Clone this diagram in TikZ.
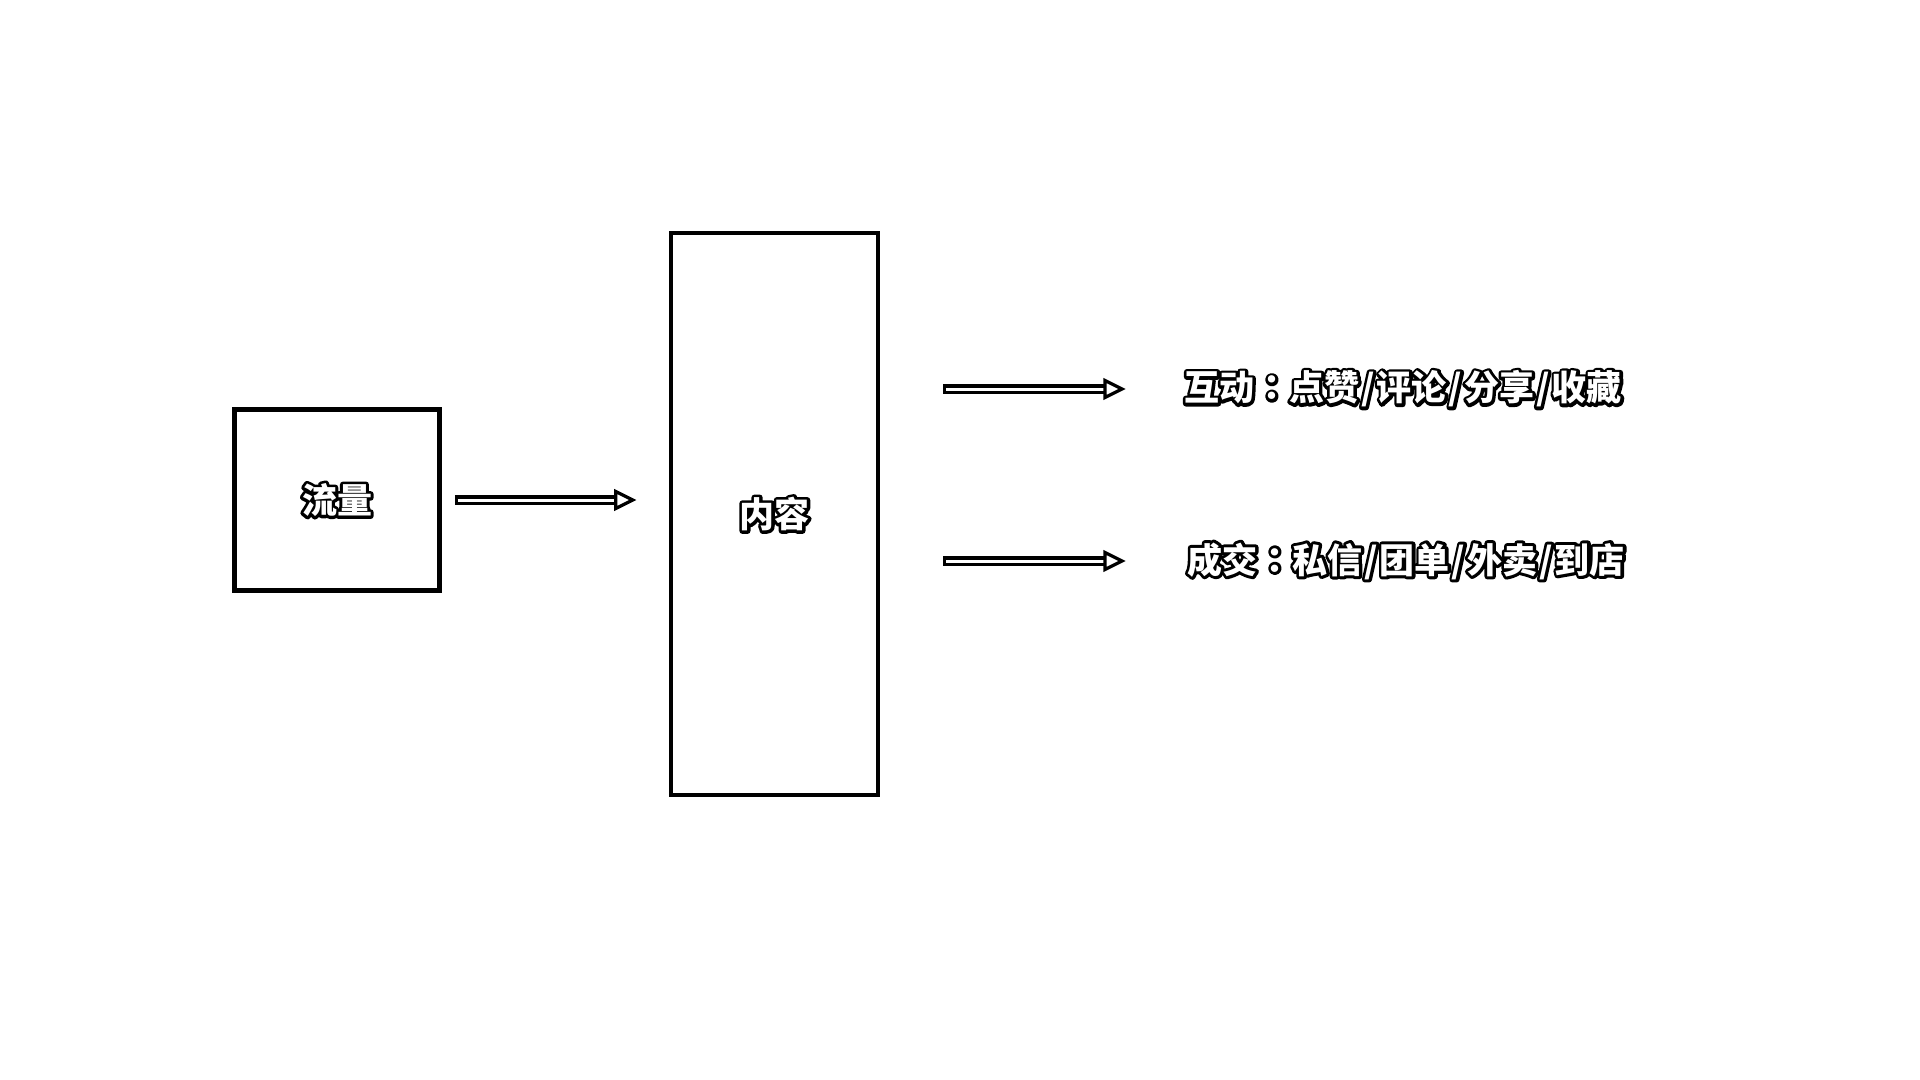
\documentclass[tikz,border=0pt]{standalone}
\usepackage{fontspec}
\newfontfamily\cjk{Noto Sans CJK SC}
\newfontfamily\cjkjp{Noto Sans CJK JP}
\usetikzlibrary{calc}

% white lettering with a black halo: a stroked copy under a plain white copy
\newsavebox\halobox
\newcommand\halo[1]{%
  \sbox\halobox{#1}%
  \makebox[\wd\halobox][l]{%
    \rlap{\color{white}\special{pdf:literal direct 0 G 2 Tr 3 w 1 j 1 J}#1\special{pdf:literal direct 0 Tr}}%
    \rlap{\color{white}#1}}}
% separators inside the labels
\newcommand\sep{\kern1pt/\kern1pt}
\newcommand\colonmark{{\cjkjp\bfseries ：}}

% hollow arrow: black shaft with a white core, open triangular head
\newcommand\flowarrow[2]{%
  \draw[shaftouter] (#1) -- ($(#2)+(-18,0)$);
  \draw[shaftinner] ($(#1)+(3,0)$) -- ($(#2)+(-18,0)$);
  \draw[arrowhead] (#2) -- ++(-17,-8.5) -- ++(0,17) -- cycle;
}

\tikzset{
  box/.style={draw=black, line width=2.25pt, fill=white, inner sep=0pt,
    font=\cjk\bfseries\fontsize{17.5pt}{20pt}\selectfont},
  outlabel/.style={inner sep=0pt, anchor=west,
    font=\cjk\bfseries\fontsize{17.5pt}{20pt}\selectfont},
  shaftouter/.style={draw=black, line width=5pt},
  shaftinner/.style={draw=white, line width=1.5pt},
  arrowhead/.style={draw=black, fill=white, line width=1.6pt, line join=miter},
}

\begin{document}
\begin{tikzpicture}[x=0.5pt, y=-0.5pt]
  \fill[white] (0,0) rectangle (1920,1080);
  \useasboundingbox (0,0) rectangle (1920,1080);

  \node[box, minimum width=102.5pt, minimum height=90.5pt] (traffic) at (337,500) {\halo{流量}};
  \node[box, minimum width=103.5pt, minimum height=281pt] (content) at (774.5,514) {\raisebox{-1.5pt}{\halo{内容}}};

  \node[outlabel] (interact) at (1184,389) {\halo{互动\colonmark 点赞\sep 评论\sep 分享\sep 收藏}};
  \node[outlabel] (deal) at (1187,561) {\halo{成交\colonmark 私信\sep 团单\sep 外卖\sep 到店}};

  \coordinate (a1s) at ($(traffic.east)+(13,0)$);
  \coordinate (a1e) at ($(traffic.east -| content.west)+(-36,0)$);
  \coordinate (a2s) at ($(content.east |- interact.west)+(63,0)$);
  \coordinate (a2e) at ($(interact.west)+(-62,0)$);
  \coordinate (a3s) at ($(content.east |- deal.west)+(63,0)$);
  \coordinate (a3e) at ($(deal.west)+(-65,0)$);

  \flowarrow{a1s}{a1e}
  \flowarrow{a2s}{a2e}
  \flowarrow{a3s}{a3e}
\end{tikzpicture}
\end{document}
